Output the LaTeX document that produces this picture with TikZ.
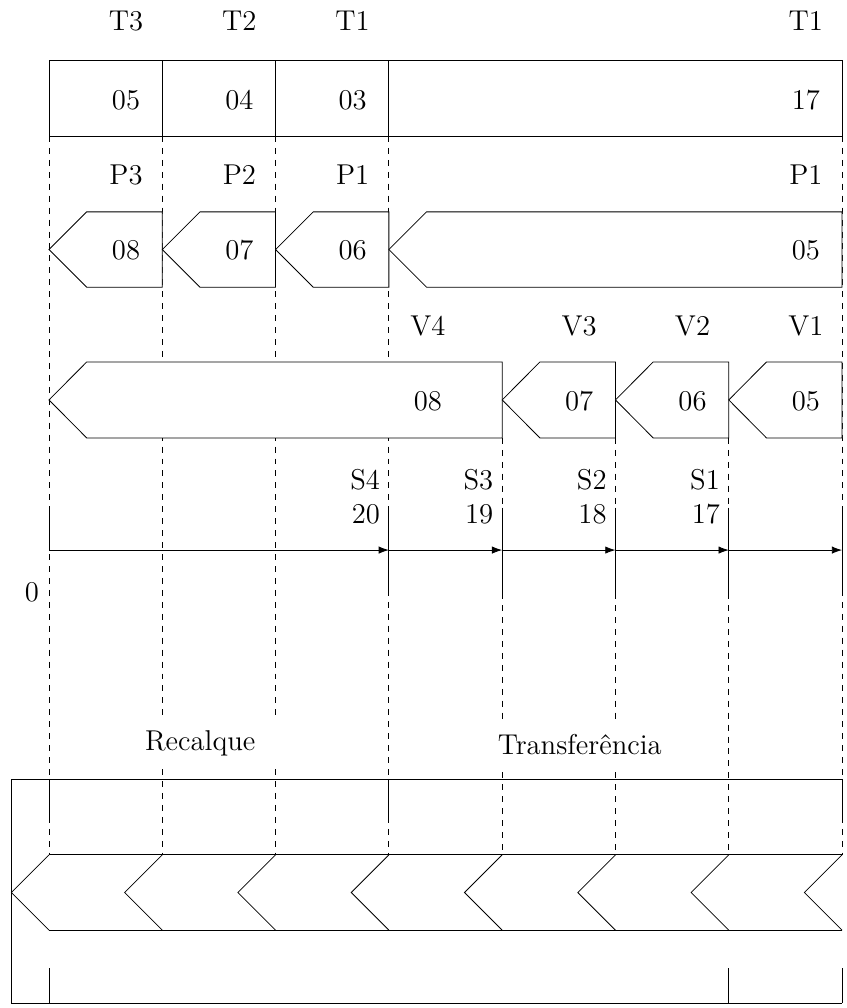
\documentclass[tikz,border=0pt]{standalone}
\usepackage{fontspec}
\usepackage{tikz}
\usetikzlibrary{arrows.meta}

\begin{document}
\begin{tikzpicture}[
    every node/.style = {font=\Large, inner sep=0pt},
    guide/.style = {dashed},
    piece/.style = {draw, fill=white},
    axis/.style = {-{Latex[length=1.8mm, width=1.3mm]}},
    zone/.style = {fill=white, minimum width=3cm, minimum height=0.8cm}
  ]
  \useasboundingbox (-0.865,0) rectangle (14.086,-17.794);

  % guide lines
  \draw[guide] (0,-2.40) -- (0,-15.09);
  \draw[guide] (2,-2.40) -- (2,-15.09);
  \draw[guide] (4,-2.40) -- (4,-15.09);
  \draw[guide] (6,-2.40) -- (6,-15.09);
  \draw[guide] (8,-7.73) -- (8,-15.09);
  \draw[guide] (10,-7.73) -- (10,-15.09);
  \draw[guide] (12,-7.73) -- (12,-15.09);
  \draw[guide] (14,-2.40) -- (14,-15.09);

  % top row
  \draw (0,-1.06) rectangle (14,-2.40);
  \draw (2,-1.06) -- (2,-2.40) (4,-1.06) -- (4,-2.40) (6,-1.06) -- (6,-2.40);

  % P row
  \draw[piece] (0,-4.405) -- (0.665,-3.74) -- (2,-3.74) -- (2,-5.07) -- (0.665,-5.07) -- cycle;
  \draw[piece] (2,-4.405) -- (2.665,-3.74) -- (4,-3.74) -- (4,-5.07) -- (2.665,-5.07) -- cycle;
  \draw[piece] (4,-4.405) -- (4.665,-3.74) -- (6,-3.74) -- (6,-5.07) -- (4.665,-5.07) -- cycle;
  \draw[piece] (6,-4.405) -- (6.665,-3.74) -- (14,-3.74) -- (14,-5.07) -- (6.665,-5.07) -- cycle;

  % V row
  \draw[piece] (0,-7.06) -- (0.665,-6.39) -- (8,-6.39) -- (8,-7.73) -- (0.665,-7.73) -- cycle;
  \draw[piece] (8,-7.06) -- (8.665,-6.39) -- (10,-6.39) -- (10,-7.73) -- (8.665,-7.73) -- cycle;
  \draw[piece] (10,-7.06) -- (10.665,-6.39) -- (12,-6.39) -- (12,-7.73) -- (10.665,-7.73) -- cycle;
  \draw[piece] (12,-7.06) -- (12.665,-6.39) -- (14,-6.39) -- (14,-7.73) -- (12.665,-7.73) -- cycle;

  % time axis
  \coordinate (o) at (0,-9.71);
  \coordinate (s4) at (6,-9.71);
  \coordinate (s3) at (8,-9.71);
  \coordinate (s2) at (10,-9.71);
  \coordinate (s1) at (12,-9.71);
  \coordinate (end) at (14,-9.71);
  \draw (0,-9.0) -- (o);
  \draw (6,-8.96) -- (6,-10.46) (8,-8.96) -- (8,-10.46)
        (10,-8.96) -- (10,-10.46) (12,-8.96) -- (12,-10.46)
        (14,-8.96) -- (14,-10.46);
  \draw[axis] (o) -- (s4);
  \draw[axis] (s4) -- (s3);
  \draw[axis] (s3) -- (s2);
  \draw[axis] (s2) -- (s1);
  \draw[axis] (s1) -- (end);

  % bottom band
  \draw (14,-13.75) -- (-0.665,-13.75) -- (-0.665,-17.705) -- (14,-17.705);
  \draw (0,-13.75) -- (0,-14.53) (6,-13.75) -- (6,-14.53) (14,-13.75) -- (14,-14.53);
  \draw (0,-17.09) -- (0,-17.705) (12,-17.09) -- (12,-17.705) (14,-17.09) -- (14,-17.705);
  \draw (0,-15.09) -- (14,-15.09) (0,-16.42) -- (14,-16.42);
  \draw (0,-15.09) -- (-0.665,-15.755) -- (0,-16.42)
        (2,-15.09) -- (1.335,-15.755) -- (2,-16.42)
        (4,-15.09) -- (3.335,-15.755) -- (4,-16.42)
        (6,-15.09) -- (5.335,-15.755) -- (6,-16.42)
        (8,-15.09) -- (7.335,-15.755) -- (8,-16.42)
        (10,-15.09) -- (9.335,-15.755) -- (10,-16.42)
        (12,-15.09) -- (11.335,-15.755) -- (12,-16.42)
        (14,-15.09) -- (13.335,-15.755) -- (14,-16.42);

  % Labels
  \node (T3) at (1.36,-0.37) {T3};
  \node (T2) at (3.36,-0.37) {T2};
  \node (T1) at (5.36,-0.37) {T1};
  \node (T1r) at (13.36,-0.37) {T1};
  \node (t05) at (1.36,-1.765) {05};
  \node (t04) at (3.36,-1.765) {04};
  \node (t03) at (5.36,-1.765) {03};
  \node (t17) at (13.36,-1.765) {17};
  \node (P3) at (1.36,-3.09) {P3};
  \node (P2) at (3.36,-3.09) {P2};
  \node (P1) at (5.36,-3.09) {P1};
  \node (P1r) at (13.36,-3.09) {P1};
  \node (p08) at (1.36,-4.42) {08};
  \node (p07) at (3.36,-4.42) {07};
  \node (p06) at (5.36,-4.42) {06};
  \node (p05) at (13.36,-4.42) {05};
  \node (V4) at (6.69,-5.75) {V4};
  \node (V3) at (9.36,-5.75) {V3};
  \node (V2) at (11.36,-5.75) {V2};
  \node (V1) at (13.36,-5.75) {V1};
  \node (v08) at (6.69,-7.08) {08};
  \node (v07) at (9.36,-7.08) {07};
  \node (v06) at (11.36,-7.08) {06};
  \node (v05) at (13.36,-7.08) {05};
  \node[anchor=east] (S4) at (5.85,-8.46) {S4};
  \node[anchor=east] (S3) at (7.85,-8.46) {S3};
  \node[anchor=east] (S2) at (9.85,-8.46) {S2};
  \node[anchor=east] (S1) at (11.85,-8.46) {S1};
  \node[anchor=east] (s20) at (5.85,-9.07) {20};
  \node[anchor=east] (s19) at (7.85,-9.07) {19};
  \node[anchor=east] (s18) at (9.85,-9.07) {18};
  \node[anchor=east] (s17) at (11.85,-9.07) {17};
  \node[anchor=east] (zero) at (-0.17,-10.46) {0};
  \node[zone] (rec) at (2.67,-13.13) {Recalque};
  \node[zone] (trf) at (9.37,-13.15) {Transferência};

\end{tikzpicture}
\end{document}
